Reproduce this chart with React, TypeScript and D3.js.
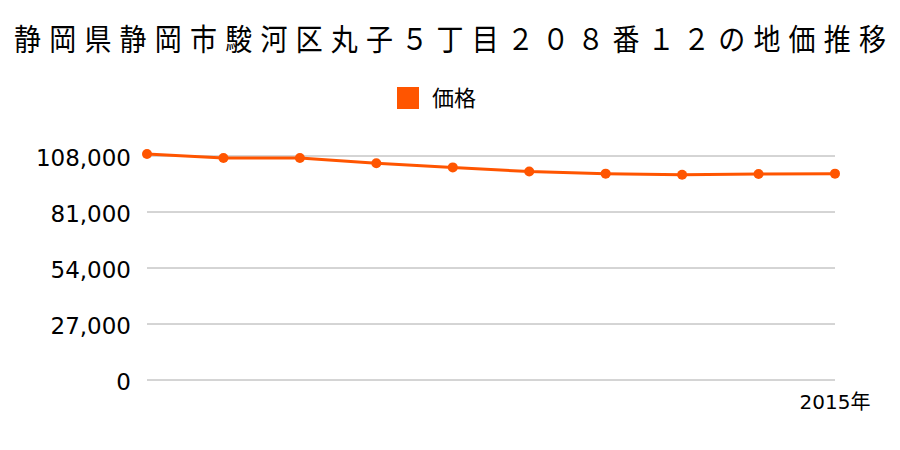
import React from "react";
import * as d3 from "d3";

const title = "静岡県静岡市駿河区丸子５丁目２０８番１２の地価推移";
const seriesName = "価格";
const years = [2006, 2007, 2008, 2009, 2010, 2011, 2012, 2013, 2014, 2015];
const prices = [109000, 107000, 107000, 104500, 102500, 100500, 99500, 99000, 99300, 99500];
const yTicks = [0, 27000, 54000, 81000, 108000];
const xLabels = ["", "", "", "", "", "", "", "", "", "2015年"];

export default function App() {
  const W = 900, H = 450;
  const x = d3.scalePoint<number>().domain(years).range([147, 835]);
  const y = d3.scaleLinear().domain([0, 108000]).range([380, 156]);
  const line = d3.line<number>().x((_, i) => x(years[i])!).y((d) => y(d));
  const color = "#ff5500";
  const cjk = "'Noto Sans CJK JP', sans-serif";
  const num = "'DejaVu Sans', 'Noto Sans CJK JP', sans-serif";
  const sx = 0.9;
  return (
    <svg width={W} height={H} style={{ position: "absolute", left: 0, top: 0, background: "#fff" }}>
      <g transform={`translate(14,50) scale(${sx},1)`}>
        <text x={0} y={0} fontFamily={cjk} fontSize={30} textLength={872 / sx} lengthAdjust="spacing" fill="#000">{title}</text>
      </g>
      <rect x={397} y={87} width={22} height={22} fill={color} />
      <text x={432} y={106} fontFamily={cjk} fontSize={22} fill="#000">{seriesName}</text>
      {yTicks.map((t) => (
        <g key={t}>
          <line x1={147} x2={835} y1={y(t)} y2={y(t)} stroke="#aaaaaa" strokeWidth={1} />
          <text x={131} y={y(t) + 9.5} textAnchor="end" fontFamily={num} fontSize={23} fill="#000">{d3.format(",")(t)}</text>
        </g>
      ))}
      {xLabels.map((l, i) => l ? (
        <text key={i} x={x(years[i])!} y={409} textAnchor="middle" fontFamily={num} fontSize={20} fill="#000">{l}</text>
      ) : null)}
      <path d={line(prices) || ""} fill="none" stroke={color} strokeWidth={3} />
      {prices.map((p, i) => (
        <circle key={i} cx={x(years[i])!} cy={y(p)} r={5} fill={color} />
      ))}
    </svg>
  );
}
